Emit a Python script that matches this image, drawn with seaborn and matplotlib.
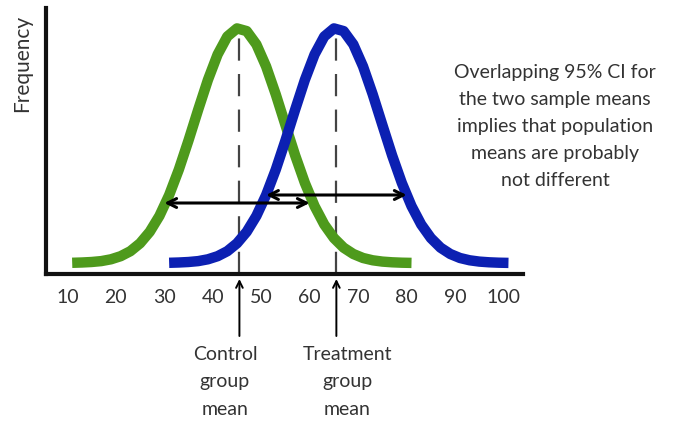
import numpy as np
import pandas as pd
import matplotlib
matplotlib.use("Agg")
import matplotlib.pyplot as plt
import seaborn as sns

# ---- data ----
control_x = [11, 13, 15, 17, 19, 21, 23, 25, 27, 29, 31, 33, 35, 37, 39, 41, 43, 45,
             47, 49, 51, 53, 55, 57, 59, 61, 63, 65, 67, 69, 71, 73, 75, 77, 79, 81]
control_freq = [11.2, 11.5, 12.0, 12.9, 14.7, 17.8, 22.8, 30.7, 42.2, 58.1, 78.9, 104.4,
                133.6, 164.4, 194.1, 219.5, 237.5, 245.6, 242.9, 229.6, 207.6, 179.6,
                148.9, 118.6, 91.1, 67.9, 49.5, 35.9, 26.3, 20.0, 16.0, 13.7, 12.4,
                11.7, 11.3, 11.1]
treatment_x = [31, 33, 35, 37, 39, 41, 43, 45, 47, 49, 51, 53, 55, 57, 59, 61, 63, 65,
               67, 69, 71, 73, 75, 77, 79, 81, 83, 85, 87, 89, 91, 93, 95, 97, 99, 101]
treatment_freq = [11.2, 11.5, 12.0, 12.9, 14.7, 17.8, 22.8, 30.7, 42.2, 58.1, 78.9, 104.4,
                  133.6, 164.4, 194.1, 219.5, 237.5, 245.6, 242.9, 229.6, 207.6, 179.6,
                  148.9, 118.6, 91.1, 67.9, 49.5, 35.9, 26.3, 20.0, 16.0, 13.7, 12.4,
                  11.7, 11.3, 11.1]
group_means = [45.5, 65.5]
control_ci = [30, 60]
treatment_ci = [51, 80]
ci_levels = [71, 79]
tick_values = [10, 20, 30, 40, 50, 60, 70, 80, 90, 100]
annotation = ("Overlapping 95% CI for\nthe two sample means\nimplies that population\n"
              "means are probably\nnot different")
mean_labels = ["Control\ngroup\nmean", "Treatment\ngroup\nmean"]

df = pd.DataFrame({
    "value": control_x + treatment_x,
    "freq": control_freq + treatment_freq,
    "group": ["Control"] * len(control_x) + ["Treatment"] * len(treatment_x),
})

sns.set_style("white")
plt.rcParams["font.family"] = ["Lato", "DejaVu Sans"]

W, H = 675, 424
fig = plt.figure(figsize=(W / 100, H / 100), dpi=100)
ax = fig.add_axes([46 / W, (H - 274) / H, (523 - 46) / W, (274 - 8) / H])

sns.lineplot(data=df, x="value", y="freq", hue="group",
             palette={"Control": "#4E9A1C", "Treatment": "#0C20B2"},
             linewidth=7.5, legend=False, ax=ax, sort=True)
for l in ax.lines:
    l.set_solid_capstyle("butt")
    l.set_solid_joinstyle("round")

ax.set_xlim(5.6, 104.0)
ax.set_ylim(0, 266)

# dashed mean lines
for m in group_means:
    ax.plot([m, m], [0, 244], color="#444444", lw=1.6, dashes=(10, 6), zorder=1)

# CI arrows
for (a, b), yv in zip([control_ci, treatment_ci], ci_levels):
    ax.annotate("", xy=(a, yv), xytext=(b, yv),
                arrowprops=dict(arrowstyle="<->", color="black", lw=2.2,
                                mutation_scale=16, shrinkA=0, shrinkB=0))

ax.set_xticks(tick_values)
ax.set_xticklabels([str(t) for t in tick_values])
ax.tick_params(axis="x", length=0, pad=11, labelsize=14, labelcolor="#333333")
ax.set_yticks([])
ax.set_xlabel("")
ax.set_ylabel("Frequency", fontsize=15, color="#333333")
ax.yaxis.set_label_coords(-0.03, 0.79)

for s in ["top", "right"]:
    ax.spines[s].set_visible(False)
for s in ["left", "bottom"]:
    ax.spines[s].set_linewidth(3)
    ax.spines[s].set_color("#111111")

ax.text(555 / W, (H - 126.5) / H, annotation, transform=fig.transFigure,
        ha="center", va="center", fontsize=14, color="#333333", linespacing=1.72)

# mean pointers below the axis
for m in group_means:
    ax.annotate("", xy=(m, -5), xytext=(m, -62),
                arrowprops=dict(arrowstyle="->", color="black", lw=1.4,
                                mutation_scale=12, shrinkA=0, shrinkB=0),
                annotation_clip=False)
for cx, lab in zip([225, 347], mean_labels):
    fig.text(cx / W, (H - 382) / H, lab, ha="center", va="center",
             fontsize=14, color="#333333", linespacing=1.72)

fig.savefig("out.png", dpi=100)
